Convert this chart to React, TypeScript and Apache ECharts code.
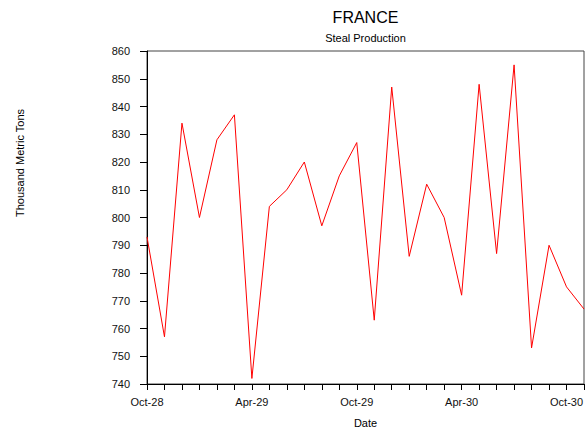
import React, { useEffect, useRef } from "react";
import * as echarts from "echarts";

const months: string[] = [
  "Oct-28", "Nov-28", "Dec-28", "Jan-29", "Feb-29", "Mar-29", "Apr-29", "May-29", "Jun-29",
  "Jul-29", "Aug-29", "Sep-29", "Oct-29", "Nov-29", "Dec-29", "Jan-30", "Feb-30", "Mar-30",
  "Apr-30", "May-30", "Jun-30", "Jul-30", "Aug-30", "Sep-30", "Oct-30", "Nov-30",
];

const production: number[] = [
  793, 757, 834, 800, 828, 837, 742, 804, 810, 820, 797, 815, 827,
  763, 847, 786, 812, 800, 772, 848, 787, 855, 753, 790, 775, 767,
];

const chartTitle = "FRANCE";
const chartSubtitle = "Steal Production";
const yAxisName = "Thousand Metric Tons";
const xAxisName = "Date";

const FONT = "'Liberation Sans', Arial, sans-serif";

export default function App() {
  const ref = useRef<HTMLDivElement>(null);

  useEffect(() => {
    if (!ref.current) return;
    const chart = echarts.init(ref.current, undefined, { renderer: "svg" });
    const gridLeft = 147;
    const gridRight = 4;
    const gridTop = 51;
    const gridBottom = 45;
    const plotCenterX = gridLeft + (588 - gridLeft - gridRight) / 2;
    chart.setOption({
      animation: false,
      backgroundColor: "#ffffff",
      textStyle: { fontFamily: FONT },
      grid: {
        left: gridLeft,
        right: gridRight,
        top: gridTop,
        bottom: gridBottom,
        show: true,
        borderColor: "#444444",
        borderWidth: 1,
        backgroundColor: "transparent",
      },
      graphic: [
        {
          type: "text",
          x: plotCenterX,
          y: 17,
          style: {
            text: chartTitle,
            font: `16px ${FONT}`,
            fill: "#000000",
            textAlign: "center",
            textVerticalAlign: "middle",
          },
        },
        {
          type: "text",
          x: plotCenterX,
          y: 38,
          style: {
            text: chartSubtitle,
            font: `11px ${FONT}`,
            fill: "#000000",
            textAlign: "center",
            textVerticalAlign: "middle",
          },
        },
        {
          type: "text",
          x: 20,
          y: 163,
          rotation: Math.PI / 2,
          style: {
            text: yAxisName,
            font: `11px ${FONT}`,
            fill: "#000000",
            textAlign: "center",
            textVerticalAlign: "middle",
          },
        },
        {
          type: "text",
          x: plotCenterX,
          y: 423,
          style: {
            text: xAxisName,
            font: `11px ${FONT}`,
            fill: "#000000",
            textAlign: "center",
            textVerticalAlign: "middle",
          },
        },
      ],
      xAxis: {
        type: "category",
        data: months,
        boundaryGap: false,
        axisLine: { show: true, lineStyle: { color: "#000000", width: 1 } },
        axisTick: { show: true, interval: 0, length: 6, lineStyle: { color: "#000000" } },
        axisLabel: {
          interval: 5,
          margin: 12,
          fontSize: 11,
          fontFamily: FONT,
          color: "#111111",
        },
        splitLine: { show: false },
      },
      yAxis: {
        type: "value",
        min: 740,
        max: 860,
        interval: 10,
        axisLine: { show: true, lineStyle: { color: "#000000", width: 1 } },
        axisTick: { show: true, length: 7, lineStyle: { color: "#000000" } },
        axisLabel: {
          margin: 17,
          fontSize: 11,
          fontFamily: FONT,
          color: "#111111",
          padding: [0, 0, 8, 0],
        },
        splitLine: { show: false },
      },
      series: [
        {
          type: "line",
          data: production,
          symbol: "none",
          lineStyle: { color: "#ff0000", width: 1 },
          itemStyle: { color: "#ff0000" },
        },
      ],
    });
    return () => chart.dispose();
  }, []);

  return (
    <div
      ref={ref}
      style={{ position: "fixed", left: 0, top: 0, width: 588, height: 429 }}
    />
  );
}
